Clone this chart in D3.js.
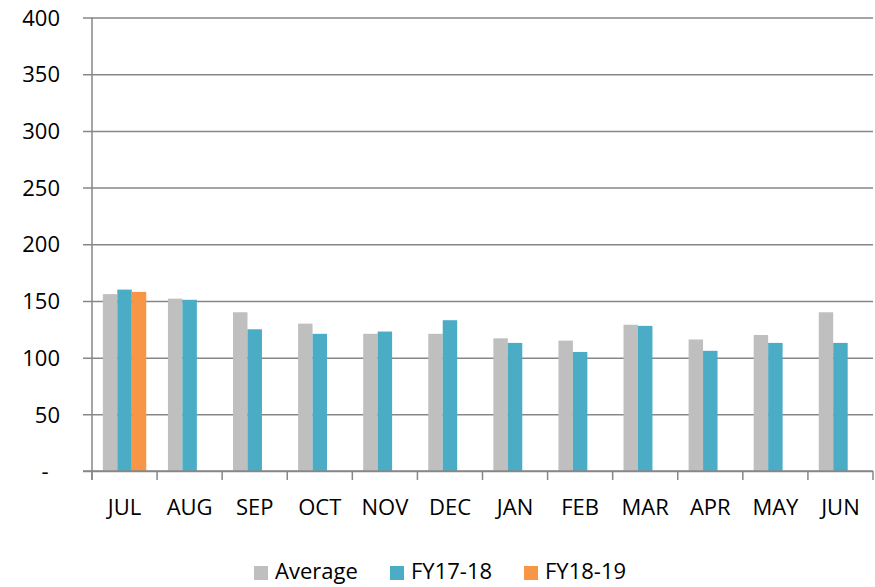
<!DOCTYPE html>
<html>
<head>
<meta charset="utf-8">
<script src="https://cdn.jsdelivr.net/npm/d3@7"></script>
<style>
  body { margin: 0; background: #fff; }
  svg text { font-family: "Open Sans", sans-serif; fill: #000; }
</style>
</head>
<body>
<div id="chart"></div>
<script>
// dati
var months = ["JUL", "AUG", "SEP", "OCT", "NOV", "DEC", "JAN", "FEB", "MAR", "APR", "MAY", "JUN"];
var seriesNames = ["Average", "FY17-18", "FY18-19"];
var average = [156, 152, 140, 130, 121, 121, 117, 115, 129, 116, 120, 140];
var fy1718 = [160, 151, 125, 121, 123, 133, 113, 105, 128, 106, 113, 113];
var fy1819 = [158, null, null, null, null, null, null, null, null, null, null, null];
var yTicks = [0, 50, 100, 150, 200, 250, 300, 350, 400];
var colors = ["#BFBFBF", "#4BACC6", "#F79646"];

var width = 875, height = 587;
var plotLeft = 92, plotRight = 873, plotTop = 17.5, plotBottom = 471;

var svg = d3.select("#chart").append("svg")
    .attr("width", width)
    .attr("height", height);

var x = d3.scaleBand().domain(months).range([plotLeft, plotRight]).paddingInner(0).paddingOuter(0);
var xs = d3.scaleBand().domain(seriesNames).range([0, x.bandwidth()]).paddingInner(0).paddingOuter(0.75);
var y = d3.scaleLinear().domain([0, 400]).range([plotBottom, plotTop]);

var data = months.map(function (m, i) {
    return { month: m, values: [average[i], fy1718[i], fy1819[i]] };
});

// griglia + asse Y
var yAxis = d3.axisLeft(y)
    .tickValues(yTicks)
    .tickSize(-(plotRight - plotLeft + 9))
    .tickPadding(0)
    .tickFormat(function (d) { return d === 0 ? "-\u00a0\u00a0" : d; });

var gy = svg.append("g")
    .attr("transform", "translate(" + (plotLeft - 9) + ",0)")
    .call(yAxis);
gy.select(".domain").remove();
gy.selectAll("line")
    .attr("stroke", "#878787")
    .attr("stroke-width", 1.5);
gy.selectAll("text")
    .attr("x", -23)
    .attr("dy", "0.35em")
    .style("font-size", "22px")
    .style("font-family", "'Open Sans', sans-serif");

// barre
var groups = svg.selectAll(".month")
    .data(data)
  .enter().append("g")
    .attr("class", "month")
    .attr("transform", function (d) { return "translate(" + x(d.month) + ",0)"; });

groups.selectAll("rect")
    .data(function (d) {
        return d.values.map(function (v, i) { return { name: seriesNames[i], value: v, idx: i }; })
            .filter(function (e) { return e.value != null; });
    })
  .enter().append("rect")
    .attr("x", function (d) { return xs(d.name); })
    .attr("width", xs.bandwidth())
    .attr("y", function (d) { return y(d.value); })
    .attr("height", function (d) { return plotBottom - y(d.value); })
    .attr("fill", function (d) { return colors[d.idx]; });

// asse X
var xAxis = d3.axisBottom(x).tickSize(0).tickPadding(0);
var gx = svg.append("g")
    .attr("transform", "translate(0," + plotBottom + ")")
    .call(xAxis);
gx.select(".domain").remove();
gx.selectAll("text")
    .attr("y", 44)
    .attr("dy", 0)
    .style("font-size", "22px")
    .style("font-family", "'Open Sans', sans-serif");

// linea asse x e tacche
svg.append("line")
    .attr("x1", plotLeft - 9).attr("x2", plotRight)
    .attr("y1", plotBottom).attr("y2", plotBottom)
    .attr("stroke", "#878787").attr("stroke-width", 1.5);
svg.selectAll(".xtick")
    .data(months.concat(["end"]))
  .enter().append("line")
    .attr("class", "xtick")
    .attr("x1", function (d) { return d === "end" ? plotRight : x(d); })
    .attr("x2", function (d) { return d === "end" ? plotRight : x(d); })
    .attr("y1", plotBottom).attr("y2", plotBottom + 9)
    .attr("stroke", "#878787").attr("stroke-width", 1.5);
// linea asse y
svg.append("line")
    .attr("x1", plotLeft).attr("x2", plotLeft)
    .attr("y1", plotTop).attr("y2", plotBottom + 9)
    .attr("stroke", "#878787").attr("stroke-width", 1.5);

// legenda
var legendX = [254, 390, 524];
var legend = svg.selectAll(".legend")
    .data(seriesNames)
  .enter().append("g")
    .attr("class", "legend")
    .attr("transform", function (d, i) { return "translate(" + legendX[i] + ",566)"; });

legend.append("rect")
    .attr("width", 14)
    .attr("height", 14)
    .attr("fill", function (d, i) { return colors[i]; });

legend.append("text")
    .attr("x", 21)
    .attr("y", 13)
    .style("font-size", "22px")
    .text(function (d) { return d; });
</script>
</body>
</html>
